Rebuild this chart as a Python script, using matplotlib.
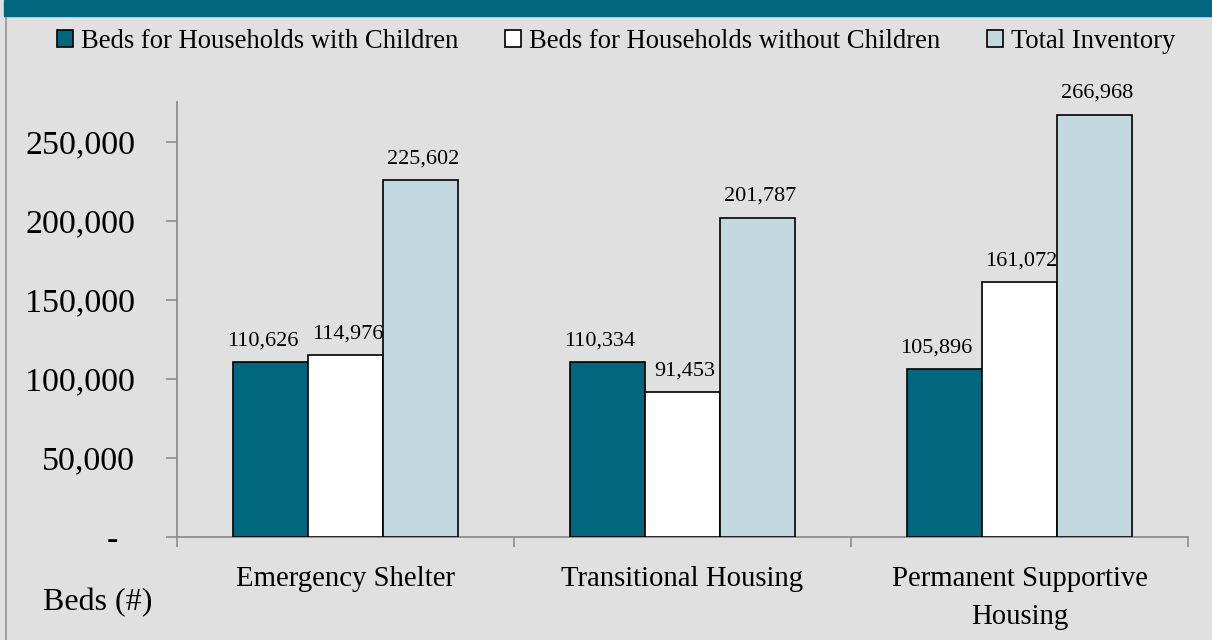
import matplotlib

matplotlib.use("Agg")
import matplotlib.pyplot as plt
from matplotlib.lines import Line2D
from matplotlib.patches import Patch, Rectangle
from matplotlib.ticker import FixedLocator, FuncFormatter

categories = ["Emergency Shelter", "Transitional Housing", "Permanent Supportive\nHousing"]
series_names = [
    "Beds for Households with Children",
    "Beds for Households without Children",
    "Total Inventory",
]
with_children = [110626, 110334, 105896]
without_children = [114976, 91453, 161072]
total_inventory = [225602, 201787, 266968]
y_ticks = [0, 50000, 100000, 150000, 200000, 250000]

TEAL = "#00677f"
LIGHT = "#c1d9df"
BG = "#e0e0e0"
AXIS = "#8c8c8c"
COLORS = [TEAL, "white", LIGHT]

W, H = 1212, 640

plt.rcParams["font.family"] = ["Liberation Serif", "DejaVu Serif"]


def px(x, y):
    # pixel position (from top-left) to figure fraction
    return x / W, 1 - y / H


fig = plt.figure(figsize=(W / 100, H / 100), dpi=100, facecolor=BG)

# header band and left border
fig.add_artist(Rectangle(px(4, 16), 1, 16 / H, transform=fig.transFigure, color=TEAL, zorder=5))
fig.add_artist(Line2D([6 / W, 6 / W], [0, 1 - 16 / H], transform=fig.transFigure, color="#a0a0a0", linewidth=1.5))

left, bottom = px(177, 537)
ax = fig.add_axes([left, bottom, (1188 - 177) / W, (537 - 102) / H])
ax.set_facecolor(BG)

series = [with_children, without_children, total_inventory]
width = 0.2226
label_dx = [-5.8, 1.4, 1.8]
centers = [i + 0.5 for i in range(len(categories))]
for k, values in enumerate(series):
    xs = [c + (k - 1) * width for c in centers]
    ax.bar(xs, values, width, color=COLORS[k], edgecolor="black", linewidth=1.2, zorder=3)
    for x, v in zip(xs, values):
        ax.annotate(f"{v:,}", (x, v), xytext=(label_dx[k], 12.2), textcoords="offset points",
                    ha="center", va="baseline", fontsize=16)

ax.set_xlim(0, 3)
ax.set_ylim(0, 275000)

for side in ("top", "right"):
    ax.spines[side].set_visible(False)
for side in ("left", "bottom"):
    ax.spines[side].set_color(AXIS)
    ax.spines[side].set_linewidth(1.3)

ax.yaxis.set_major_locator(FixedLocator(y_ticks))
ax.yaxis.set_major_formatter(FuncFormatter(lambda v, _: "-  " if v == 0 else f"{v:,.0f}"))
ax.tick_params(axis="y", direction="out", length=8, width=1.2, color=AXIS, pad=22, labelsize=24.5)

ax.xaxis.set_major_locator(FixedLocator([0, 1, 2, 3]))
ax.xaxis.set_major_formatter(FuncFormatter(lambda v, _: ""))
ax.xaxis.set_minor_locator(FixedLocator(centers))
ax.xaxis.set_minor_formatter(FuncFormatter(lambda v, i: categories[i]))
ax.tick_params(axis="x", which="major", direction="out", length=7.5, width=1.2, color=AXIS)
ax.tick_params(axis="x", which="minor", length=0, pad=21, labelsize=20.7)
for lab in ax.get_xticklabels(minor=True):
    lab.set_linespacing(1.6)

fig.text(*px(43, 610), "Beds (#)", fontsize=23, ha="left", va="baseline")

handles = [Patch(facecolor=c, edgecolor="black", linewidth=1.2) for c in COLORS]
fig.legend(handles, series_names, loc="center", bbox_to_anchor=px(616.5, 41), ncol=3,
           frameon=False, fontsize=19.2, handlelength=0.6, handleheight=0.6,
           handletextpad=0.3, columnspacing=1.75, borderpad=0, borderaxespad=0)

fig.savefig("out.png", dpi=100, facecolor=BG)
plt.close(fig)
